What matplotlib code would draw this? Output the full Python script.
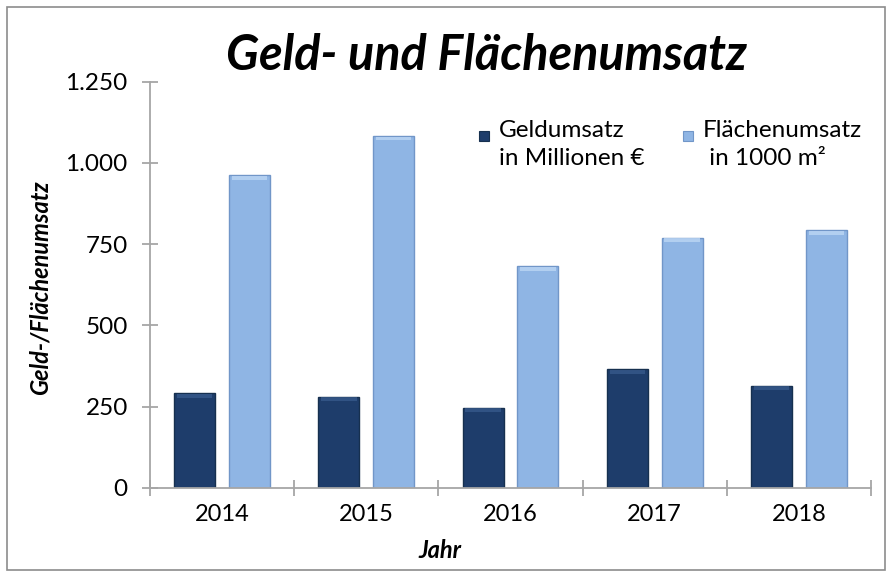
import numpy as np
import matplotlib.pyplot as plt
from matplotlib.patches import Rectangle
from matplotlib.ticker import FuncFormatter

plt.rcParams['font.family'] = ['Lato', 'DejaVu Sans']

years = ["2014", "2015", "2016", "2017", "2018"]
geldumsatz = [291, 280, 246, 365, 314]
flaechenumsatz = [962, 1083, 682, 770, 793]
legend_labels = ["Geldumsatz\nin Millionen €", "Flächenumsatz\n in 1000 m²"]

dark = '#1e3d6b'
dark_edge = '#16304f'
light = '#8fb5e4'
light_edge = '#7196c8'

W, H = 892, 576
fig = plt.figure(figsize=(W / 100, H / 100), dpi=100)


def fx(x):
    return x / W


def fy(y):
    return 1 - y / H


# outer frame of the chart
fig.patches.append(Rectangle((fx(7), fy(570)), fx(885) - fx(7), fy(7) - fy(570),
                             transform=fig.transFigure, fill=False,
                             edgecolor='#8c8c8c', linewidth=1.2))

ax = fig.add_axes([fx(150), fy(487.7), fx(871) - fx(150), fy(81.7) - fy(487.7)])

x = np.arange(len(years))
width = 0.285
off = 0.19
ax.bar(x - off, geldumsatz, width, color=dark, edgecolor=dark_edge, linewidth=1)
ax.bar(x + off, flaechenumsatz, width, color=light, edgecolor=light_edge, linewidth=1)
# soft bevel highlight on top of each bar
ax.bar(x - off, [12] * len(x), width * 0.86, bottom=np.array(geldumsatz) - 14,
       color='#3a5d8f', alpha=0.7, linewidth=0)
ax.bar(x + off, [12] * len(x), width * 0.86, bottom=np.array(flaechenumsatz) - 14,
       color='#bcd6f4', alpha=0.8, linewidth=0)

ax.set_xlim(-0.5, len(years) - 0.5)
ax.set_ylim(0, 1250)
ax.set_yticks(np.arange(0, 1251, 250))
ax.yaxis.set_major_formatter(FuncFormatter(lambda v, p: f"{int(v):,}".replace(",", ".")))
ax.set_xticks(np.arange(-0.5, len(years), 1))
ax.set_xticklabels([])
ax.set_xticks(x, minor=True)
ax.set_xticklabels(years, minor=True)

for s in ['top', 'right']:
    ax.spines[s].set_visible(False)
for s in ['left', 'bottom']:
    ax.spines[s].set_color('#a6a6a6')
    ax.spines[s].set_linewidth(1.3)
ax.tick_params(axis='both', which='major', direction='inout', length=12, width=1.3,
               color='#a6a6a6', labelsize=17.5, labelcolor='black')
ax.tick_params(axis='x', which='minor', length=0, labelsize=17, pad=12)
ax.tick_params(axis='y', pad=10)

fig.text(fx(487), fy(55), "Geld- und Flächenumsatz", ha='center', va='center',
         fontsize=35, fontweight='bold', fontstyle='italic')
fig.text(fx(40), fy(288), "Geld-/Flächenumsatz", ha='center', va='center',
         rotation=90, fontsize=17, fontweight='bold', fontstyle='italic')
fig.text(fx(440), fy(550), "Jahr", ha='center', va='center',
         fontsize=17, fontweight='bold', fontstyle='italic')

# legend drawn by hand: square next to the first line of each label
for lx, c, ec, lab in [(479, dark, dark_edge, legend_labels[0]),
                       (683, light, light_edge, legend_labels[1])]:
    fig.patches.append(Rectangle((fx(lx), fy(141)), fx(10), 10 / H,
                                 transform=fig.transFigure, facecolor=c,
                                 edgecolor=ec, linewidth=0.8))
    fig.text(fx(lx + 20), fy(120), lab, ha='left', va='top', fontsize=17.5,
             linespacing=1.4)

fig.savefig("out.png", dpi=100)
